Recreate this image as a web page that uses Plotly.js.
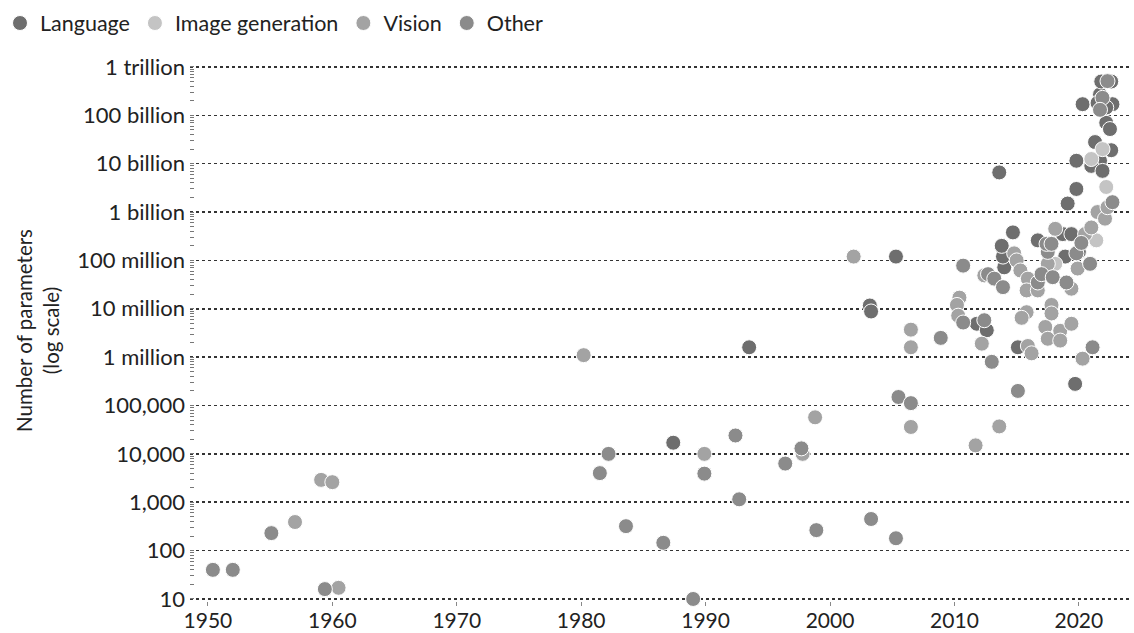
<!DOCTYPE html>
<html>
<head>
<meta charset="utf-8">
<script src="https://cdn.plot.ly/plotly-3.0.1.min.js"></script>
<style>html,body{margin:0;padding:0;background:#fff;}#chart{width:1134px;height:633px;}</style>
</head>
<body>
<div id="chart"></div>
<script>
// ---- data (year, number of parameters) ----
const languageYears = [1987.4, 1993.5, 2003.2, 2003.3, 2005.3, 2011.8, 2012.6, 2014.0, 2013.9, 2013.8, 2014.7, 2013.6, 2016.7, 2018.7, 2019.4, 2020.0, 2018.9, 2019.1, 2019.8, 2019.8, 2021.7, 2021.0, 2021.9, 2021.3, 2022.6, 2022.2, 2022.5, 2020.3, 2021.7, 2021.5, 2022.7, 2022.2, 2021.8, 2022.6, 2015.1, 2019.7];
const languageParams = [17000, 1.6e6, 1.17e7, 8.8e6, 1.2e8, 4.9e6, 3.6e6, 7.2e7, 1.2e8, 2e8, 3.8e8, 6.6e9, 2.6e8, 3.5e8, 3.5e8, 1.5e8, 1.2e8, 1.5e9, 3e9, 1.15e10, 1.15e10, 9e9, 7.1e9, 2.8e10, 1.9e10, 7e10, 5.2e10, 1.7e11, 2.7e11, 1.8e11, 1.7e11, 1.45e11, 5e11, 5e11, 1.6e6, 2.8e5];

const imageGenYears = [2018.1, 2021.4, 2022.2, 2021.0, 2021.9];
const imageGenParams = [8.5e7, 2.6e8, 3.3e9, 1.25e10, 2e10];

const visionYears = [1957.0, 1959.1, 1960.0, 1960.5, 1980.2, 1989.9, 1997.8, 1998.8, 2001.9, 2006.5, 2006.5, 2006.5, 2010.4, 2010.2, 2010.3, 2012.2, 2012.4, 2014.8, 2015.0, 2015.3, 2015.9, 2015.8, 2016.7, 2017.5, 2019.9, 2019.4, 2018.1, 2020.5, 2021.0, 2021.5, 2022.1, 2022.3, 2015.8, 2015.4, 2017.8, 2017.8, 2017.3, 2017.5, 2018.5, 2018.5, 2019.4, 2015.9, 2016.2, 2020.3, 2013.6, 2011.7];
const visionParams = [390, 2900, 2600, 17, 1.1e6, 10000, 10000, 57000, 1.2e8, 3.7e6, 1.6e6, 36000, 1.7e7, 1.2e7, 7.2e6, 1.9e6, 4.9e7, 1.4e8, 1e8, 6.2e7, 4.2e7, 2.4e7, 2.4e7, 8.5e7, 6.8e7, 2.6e7, 4.5e8, 3.5e8, 4.8e8, 1e9, 7.3e8, 1.26e9, 8.5e6, 6.5e6, 1.2e7, 8e6, 4.2e6, 2.4e6, 3.5e6, 2.2e6, 4.9e6, 1.7e6, 1.2e6, 9.3e5, 37000, 15000];

const otherYears = [1950.4, 1952.0, 1955.1, 1959.4, 1981.5, 1982.2, 1983.6, 1986.6, 1989.0, 1989.9, 1992.4, 1992.7, 1996.4, 1997.7, 1998.9, 2003.3, 2005.3, 2005.5, 2006.5, 2008.9, 2010.7, 2012.4, 2013.0, 2010.7, 2012.7, 2013.2, 2013.9, 2016.7, 2017.0, 2017.5, 2017.9, 2019.8, 2019.0, 2020.9, 2017.4, 2020.2, 2017.8, 2022.7, 2021.9, 2021.7, 2022.3, 2015.1, 2021.1];
const otherParams = [40, 40, 230, 16, 4000, 10000, 320, 145, 10, 3900, 24000, 1150, 6300, 13000, 265, 450, 180, 150000, 112000, 2.5e6, 5.2e6, 5.8e6, 8e5, 7.8e7, 5.2e7, 4.2e7, 2.8e7, 3.5e7, 5.2e7, 1.5e8, 4.5e7, 1.4e8, 3.5e7, 8.5e7, 2.2e8, 2.3e8, 2.2e8, 1.6e9, 2.3e11, 1.3e11, 5.1e11, 2e5, 1.6e6];

const yTickVals = [10, 100, 1e3, 1e4, 1e5, 1e6, 1e7, 1e8, 1e9, 1e10, 1e11, 1e12];
const yTickText = ["10", "100", "1,000", "10,000", "100,000", "1 million", "10 million", "100 million", "1 billion", "10 billion", "100 billion", "1 trillion"];
const xTickVals = [1950, 1960, 1970, 1980, 1990, 2000, 2010, 2020];

const FONT = "Lato, 'DejaVu Sans', sans-serif";
function mk(name, xs, ys, color) {
  return {
    type: 'scatter', mode: 'markers', name: name, x: xs, y: ys,
    cliponaxis: false,
    marker: {size: 15, color: color, line: {color: '#ffffff', width: 1}},
    hoverinfo: 'x+y+name'
  };
}
const traces = [
  mk('Language', languageYears, languageParams, '#6e6e6e'),
  mk('Image generation', imageGenYears, imageGenParams, '#c4c4c4'),
  mk('Vision', visionYears, visionParams, '#a3a3a3'),
  mk('Other', otherYears, otherParams, '#8b8b8b')
];

const layout = {
  width: 1134, height: 633,
  paper_bgcolor: '#ffffff', plot_bgcolor: '#ffffff',
  font: {family: FONT, size: 22, color: '#222'},
  margin: {l: 190, r: 2, t: 60, b: 32, pad: 0},
  showlegend: true,
  legend: {orientation: 'h', xref: 'container', yref: 'container', x: 0.0, y: 0.996, xanchor: 'left', yanchor: 'top',
           font: {family: FONT, size: 21.5, color: '#222'}, itemwidth: 30, tracegroupgap: 0, traceorder: 'normal'},
  xaxis: {
    range: [1948.56, 2024.27], tickmode: 'array', tickvals: xTickVals,
    showgrid: false, zeroline: false, showline: false,
    ticks: 'outside', ticklen: 4, tickcolor: '#888', tickwidth: 1,
    ticklabelstandoff: -3,
    tickfont: {family: FONT, size: 21, color: '#222'}
  },
  yaxis: {
    type: 'log', range: [0.958, 12.144],
    tickmode: 'array', tickvals: yTickVals, ticktext: yTickText,
    showgrid: true, gridcolor: '#333', griddash: 'dot', gridwidth: 1.5,
    zeroline: false, showline: false, ticks: '',
    ticklabelstandoff: 4,
    tickfont: {family: FONT, size: 22, color: '#222'},
    minor: {dtick: 'D1', ticks: 'inside', ticklen: 4, tickwidth: 1, tickcolor: '#777', showgrid: false},
    title: {text: 'Number of parameters<br>(log scale)', font: {family: FONT, size: 20.5, color: '#222'}, standoff: 12}
  }
};
Plotly.newPlot('chart', traces, layout, {displayModeBar: false, staticPlot: true});
</script>
</body>
</html>
